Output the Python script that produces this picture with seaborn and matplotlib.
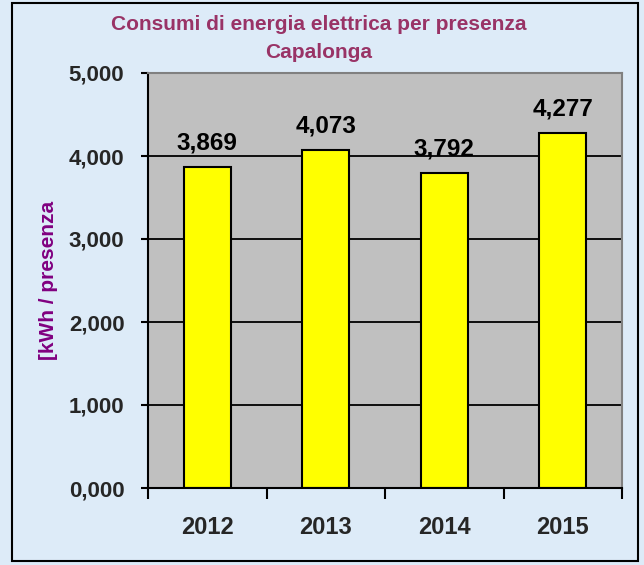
import matplotlib
matplotlib.use('Agg')
import matplotlib.pyplot as plt
import matplotlib.ticker as mticker
from matplotlib.patches import Rectangle
import pandas as pd
import seaborn as sns

# Data
years = ['2012', '2013', '2014', '2015']
consumi = [3.869, 4.073, 3.792, 4.277]
y_ticks = [0, 1, 2, 3, 4, 5]

df = pd.DataFrame({'Anno': years, 'Consumo': consumi})

sns.set_theme(style='white')
plt.rcParams['font.family'] = ['Liberation Sans', 'DejaVu Sans']
plt.rcParams['font.weight'] = 'bold'

fig = plt.figure(figsize=(6.44, 5.65), dpi=100)
fig.patch.set_facecolor('#DDEBF8')

# outer frame
fig.patches.append(Rectangle((12 / 644, 1 - 561 / 565), 626 / 644, 558 / 565,
                             transform=fig.transFigure, fill=False,
                             edgecolor='black', linewidth=1.5))

ax = fig.add_axes([148 / 644, 1 - 488 / 565, 474 / 644, 415 / 565])
ax.set_facecolor('#C0C0C0')

sns.barplot(data=df, x='Anno', y='Consumo', color='#FFFF00', width=0.4,
            edgecolor='black', linewidth=1.5, saturation=1, ax=ax)

fmt = lambda v: f'{v:.3f}'.replace('.', ',')
for c in ax.containers:
    ax.bar_label(c, labels=[fmt(v) for v in c.datavalues], padding=9,
                 fontsize=17.5, fontweight='bold', color='black')

ax.set_ylim(0, 5)
ax.set_xlim(-0.5, 3.5)
ax.set_yticks(y_ticks)
ax.yaxis.set_major_formatter(mticker.FuncFormatter(lambda v, p: fmt(v)))
ax.grid(axis='y', color='black', linewidth=1.3)
ax.set_axisbelow(True)

ax.tick_params(axis='y', which='major', length=5, width=1.5, color='black',
               pad=12, labelsize=16, left=True)
ax.set_xticks([-0.5, 0.5, 1.5, 2.5, 3.5], minor=True)
ax.tick_params(axis='x', which='minor', length=8, width=1.5, color='black', bottom=True)
ax.tick_params(axis='x', which='major', length=0, pad=20, labelsize=17)
for lbl in ax.get_xticklabels() + ax.get_yticklabels():
    lbl.set_fontweight('bold')

for side in ['left', 'bottom']:
    ax.spines[side].set_color('black')
    ax.spines[side].set_linewidth(1.5)
for side in ['top', 'right']:
    ax.spines[side].set_color('#808080')
    ax.spines[side].set_linewidth(1.5)

ax.set_xlabel('')
ax.set_ylabel('[kWh / presenza', color='#800080', fontsize=15, fontweight='bold')
ax.yaxis.set_label_coords(-0.19, 0.5)

fig.text(0.495, 1 - 24 / 565, 'Consumi di energia elettrica per presenza',
         ha='center', va='center', fontsize=15, fontweight='bold', color='#993366')
fig.text(0.495, 1 - 52 / 565, 'Capalonga',
         ha='center', va='center', fontsize=15, fontweight='bold', color='#993366')

fig.savefig('out.png', dpi=100, facecolor=fig.get_facecolor())
